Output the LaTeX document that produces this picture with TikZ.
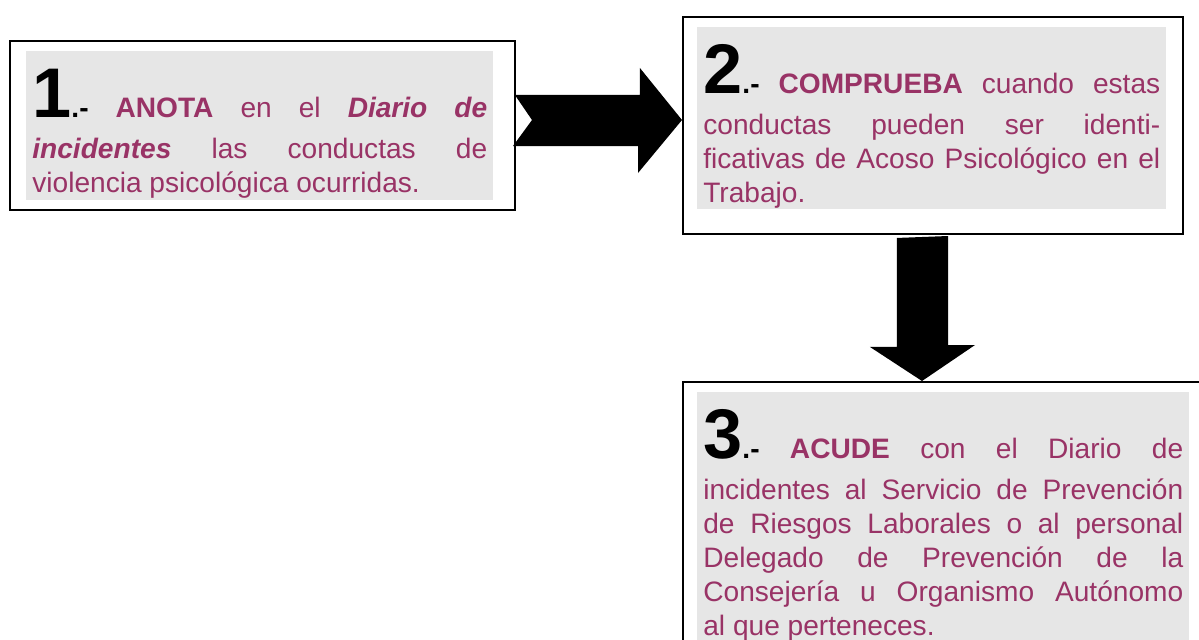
\documentclass[tikz,border=0pt]{standalone}
\usepackage{fontspec}
\setmainfont{Liberation Sans}
\definecolor{plum}{HTML}{993366}
\definecolor{shade}{HTML}{E6E6E6}
\newcommand{\stepnum}[1]{{\color{black}\fontsize{40}{40}\selectfont\bfseries #1}{\color{black}\bfseries .-}}
\newcommand{\firstline}{\rule{0pt}{1.32cm}}
\newcommand{\gapline}{\vadjust{\vskip 0.14cm}\linebreak}
\hyphenpenalty=10000
\begin{document}
\begin{tikzpicture}[x=0.02cm, y=-0.02cm,
    stepframe/.style={draw, line width=0.04cm, inner sep=0, anchor=north west},
    steppanel/.style={fill=shade, text=plum, anchor=north west, inner xsep=0.12cm, inner ysep=0,
        align=justify, font=\fontsize{16}{19.35}\selectfont},
    bigarrow/.style={fill=black}]
    \clip (0,0) rectangle (1199,639);
    \node[stepframe, minimum width=10.1cm, minimum height=3.38cm] (b1) at (9,40) {};
    \node[stepframe, minimum width=10cm, minimum height=4.34cm] (b2) at (682,16) {};
    \node[stepframe, minimum width=11cm, minimum height=6.4cm] (b3) at (682,381) {};
    \node[steppanel, text width=9.1cm] (t1) at (26,51) {\noindent\firstline\stepnum{1} \textbf{ANOTA} en el \textbf{\textit{Diario de}}\gapline
        \textbf{\textit{incidentes}} las conductas de\linebreak
        violencia psicológica ocurridas.\rule[-0.16cm]{0pt}{0pt}};
    \node[steppanel, text width=9.14cm] (t2) at (697,27) {\noindent\firstline\stepnum{2} \textbf{COMPRUEBA} cuando estas\gapline
        conductas pueden ser identi-\linebreak
        ficativas de Acoso Psicológico en el\linebreak
        Trabajo.\rule[-0.14cm]{0pt}{0pt}};
    \node[steppanel, text width=9.6cm] (t3) at (697,392) {\noindent\firstline\stepnum{3} \textbf{ACUDE} con el Diario de\gapline
        incidentes al Servicio de Prevención\linebreak
        de Riesgos Laborales o al personal\linebreak
        Delegado de Prevención de la\linebreak
        Consejería u Organismo Autónomo\linebreak
        al que perteneces.\rule[-0.3cm]{0pt}{0pt}};
    % block arrows between the boxes
    \fill[bigarrow] (b1.east) ++(-1,-30.5) -- ++(125,0) -- ++(0,-27) -- (b2.west |- 0,120) -- ++(-44,53) -- ++(0,-27) -- ++(-125,0) -- ++(19,-26) -- cycle;
    \fill[bigarrow] (b2.south) ++(-36,3) -- ++(0,109) -- ++(-27,0) -- (b3.north -| 922,0) -- ++(53,-36) -- ++(-27,0) -- ++(0,-109) -- cycle;
\end{tikzpicture}
\end{document}
